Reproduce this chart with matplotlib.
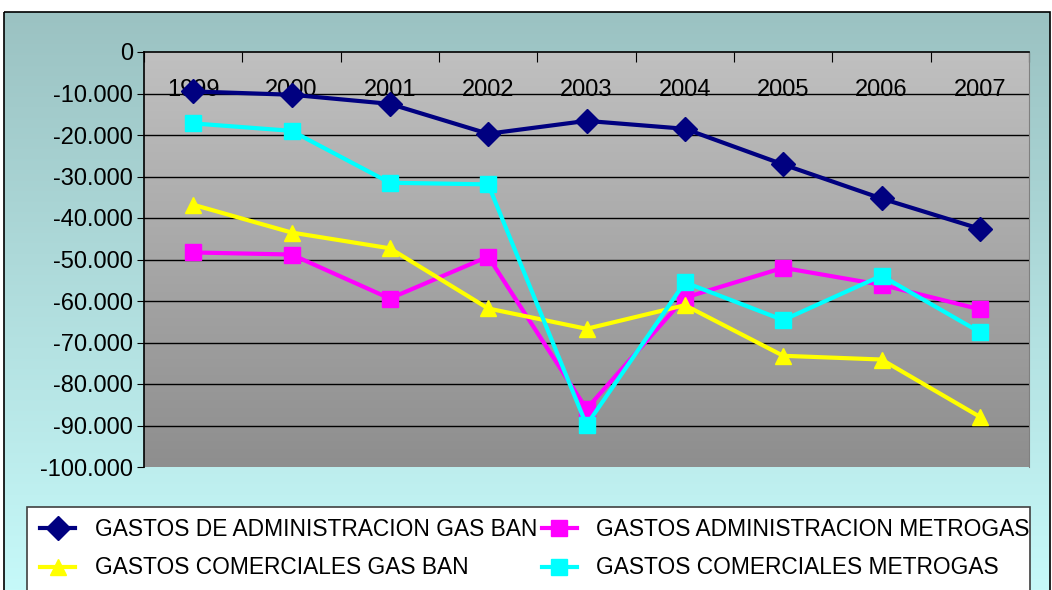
import numpy as np
import matplotlib.pyplot as plt
from matplotlib.patches import Rectangle

years = ["1999", "2000", "2001", "2002", "2003", "2004", "2005", "2006", "2007"]
adm_gasban = [-9500, -10300, -12500, -19700, -16600, -18500, -27100, -35300, -42600]
adm_metrogas = [-48300, -48800, -59400, -49300, -86000, -59200, -52000, -56100, -62000]
com_gasban = [-36800, -43500, -47300, -61800, -66700, -61000, -73200, -74100, -87900]
com_metrogas = [-17200, -19000, -31500, -31900, -89900, -55500, -64600, -53900, -67500]
yticks = [0, -10000, -20000, -30000, -40000, -50000, -60000, -70000, -80000, -90000, -100000]

plt.rcParams['font.family'] = ['Liberation Sans', 'DejaVu Sans']
W, H = 1052, 590
fig = plt.figure(figsize=(W / 100, H / 100), dpi=100)

# background with gradient and black frame
bg = fig.add_axes([0, 0, 1, 1])
bg.set_xlim(0, W)
bg.set_ylim(H, 0)
bg.axis('off')
top = np.array([155, 194, 194]) / 255
bot = np.array([198, 249, 249]) / 255
t = np.linspace(0, 1, 256)[:, None, None]
grad = top + (bot - top) * t
bg.imshow(np.repeat(grad, 2, axis=1), extent=(4, 1050, H, 12), aspect='auto', zorder=0)
bg.add_patch(Rectangle((4, 12), 1046, 600, fill=False, ec='black', lw=1.2, zorder=1))
bg.add_patch(Rectangle((27, 507), 1003, 100, fc='white', ec='#404040', lw=1.2, zorder=2))

ax = fig.add_axes([144 / W, 1 - 467 / H, 885 / W, 415 / H])
x = np.arange(len(years)) + 0.5
ax.set_xlim(0, len(years))
ax.set_ylim(-100000, 0)

pg = np.linspace(0, 1, 256)[:, None, None]
ptop = np.array([192, 192, 192]) / 255
pbot = np.array([142, 142, 142]) / 255
ax.imshow(np.repeat(ptop + (pbot - ptop) * pg, 2, axis=1), extent=(0, len(years), -100000, 0),
          aspect='auto', zorder=0)

for v in yticks[1:-1]:
    ax.axhline(v, color='black', lw=1, zorder=1)

ax.plot(x, adm_gasban, color='#000080', marker='D', ms=12, lw=3, zorder=3,
        label='GASTOS DE ADMINISTRACION GAS BAN')
ax.plot(x, adm_metrogas, color='#FF00FF', marker='s', ms=12, lw=3, zorder=3,
        label='GASTOS ADMINISTRACION METROGAS')
ax.plot(x, com_gasban, color='#FFFF00', marker='^', ms=11, lw=3, zorder=3,
        label='GASTOS COMERCIALES GAS BAN')
ax.plot(x, com_metrogas, color='#00FFFF', marker='s', ms=12, lw=3, zorder=4,
        label='GASTOS COMERCIALES METROGAS')

ax.set_yticks(yticks)
ax.set_yticklabels([f"{v:,}".replace(",", ".") for v in yticks], fontsize=17)
ax.tick_params(axis='y', length=5, direction='out', pad=3)

ax.set_xticks(np.arange(len(years) + 1))
ax.set_xticklabels([])
ax.tick_params(axis='x', which='major', top=True, bottom=False, direction='in', length=7,
               labeltop=False, labelbottom=False)
ax.set_xticks(x, labels=years, minor=True)
ax.tick_params(axis='x', which='minor', top=True, bottom=False, length=0,
               labeltop=True, labelbottom=False, labelsize=17, pad=-35.5)

for s in ['left', 'top']:
    ax.spines[s].set_color('black')
    ax.spines[s].set_linewidth(1.2)
ax.spines['right'].set_color('#808080')
ax.spines['bottom'].set_visible(False)

h, l = ax.get_legend_handles_labels()
order = [0, 2, 1, 3]
fig.legend([h[i] for i in order], [l[i] for i in order], ncol=2, frameon=False,
           loc='upper left', bbox_to_anchor=(40 / W, 1 - 518 / H), fontsize=16.4,
           handlelength=1.55, handletextpad=0.85, columnspacing=0.2, labelspacing=0.68,
           borderaxespad=0, borderpad=0)

fig.savefig('out.png', dpi=100)
